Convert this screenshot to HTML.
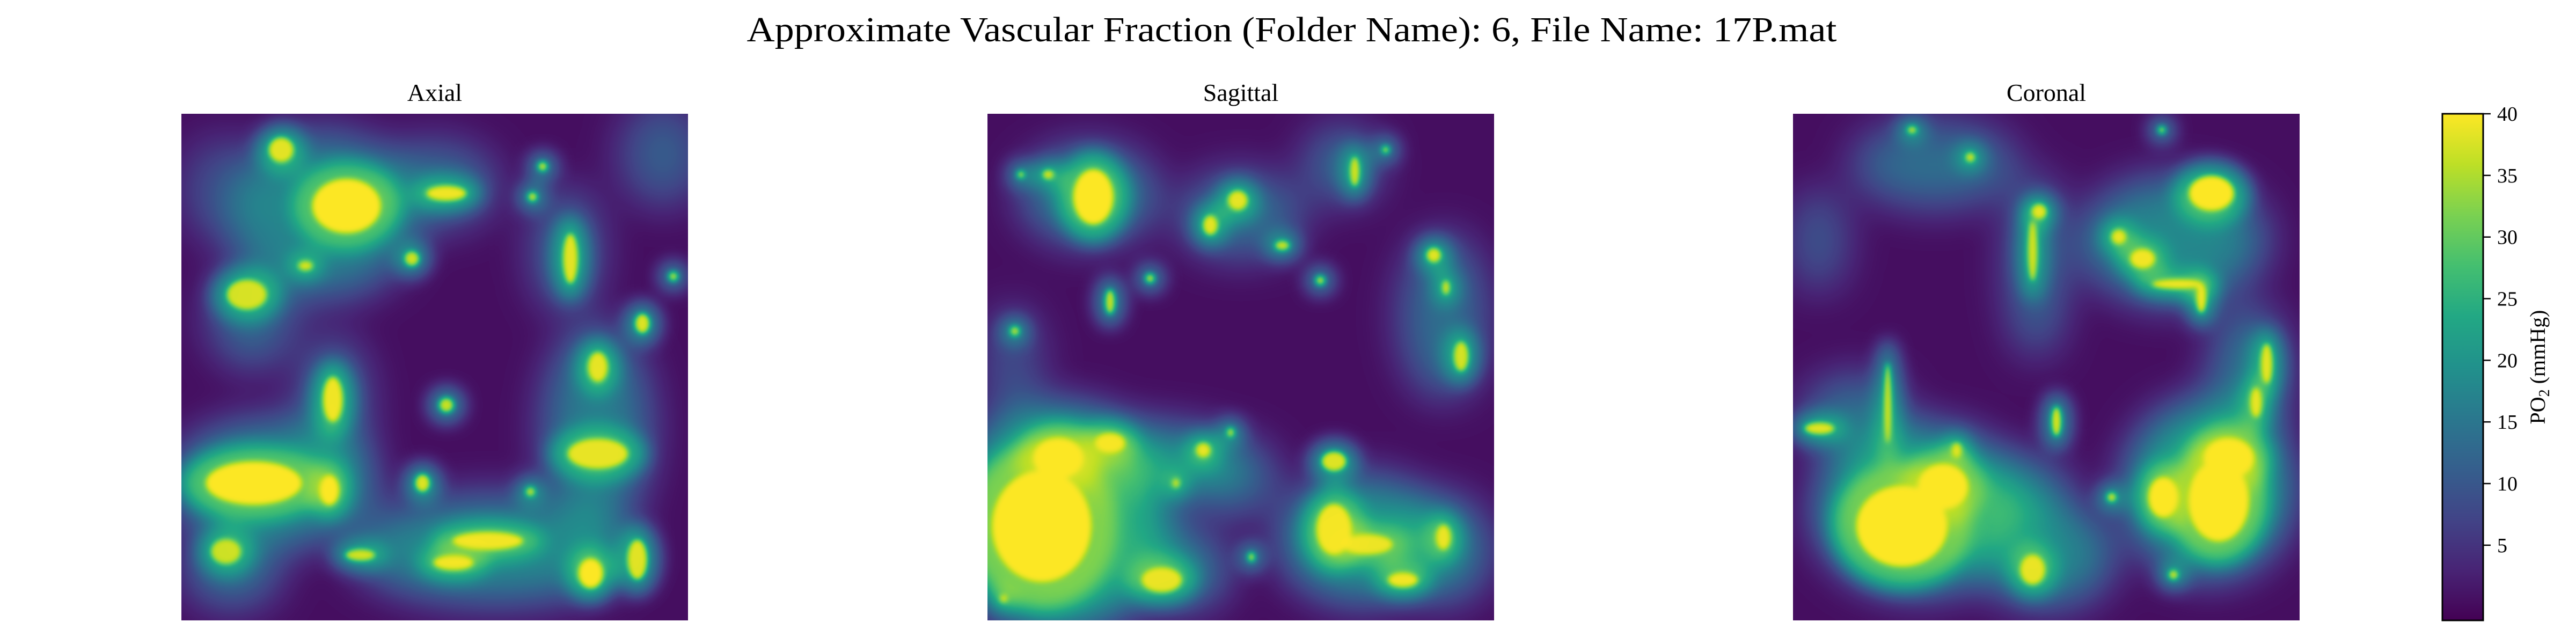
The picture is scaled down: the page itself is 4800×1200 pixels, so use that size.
<!DOCTYPE html>
<html><head><meta charset="utf-8"><style>
html,body{margin:0;padding:0;background:#fff;}
svg{display:block;font-family:"Liberation Serif",serif;}
</style></head><body>
<svg id="fig" width="4800" height="1200" viewBox="0 0 4800 1200" xmlns="http://www.w3.org/2000/svg">
<defs>
<filter id="viridis" color-interpolation-filters="sRGB" x="0" y="0" width="1" height="1">
<feComponentTransfer>
<feFuncR type="table" tableValues="0.267 0.282 0.255 0.208 0.165 0.129 0.133 0.267 0.478 0.741 0.992"/>
<feFuncG type="table" tableValues="0.004 0.141 0.267 0.373 0.471 0.569 0.659 0.749 0.820 0.875 0.906"/>
<feFuncB type="table" tableValues="0.329 0.459 0.529 0.553 0.557 0.549 0.518 0.439 0.318 0.149 0.145"/>
</feComponentTransfer>
</filter>
<filter id="bgBlur" x="-50%" y="-50%" width="200%" height="200%"><feGaussianBlur stdDeviation="40"/></filter>
<filter id="haloBlur" x="-50%" y="-50%" width="200%" height="200%"><feGaussianBlur stdDeviation="16"/></filter>
<filter id="coreBlur" x="-50%" y="-50%" width="200%" height="200%"><feGaussianBlur stdDeviation="5"/></filter>
<linearGradient id="cbGrad" x1="0" y1="1" x2="0" y2="0">
<stop offset="0" stop-color="#440154"/><stop offset="0.1" stop-color="#482475"/><stop offset="0.2" stop-color="#414487"/>
<stop offset="0.3" stop-color="#355f8d"/><stop offset="0.4" stop-color="#2a788e"/><stop offset="0.5" stop-color="#21918c"/>
<stop offset="0.6" stop-color="#22a884"/><stop offset="0.7" stop-color="#44bf70"/><stop offset="0.8" stop-color="#7ad151"/>
<stop offset="0.9" stop-color="#bddf26"/><stop offset="1" stop-color="#fde725"/>
</linearGradient>
</defs>
<text x="2407" y="77" font-size="66" text-anchor="middle" textLength="2031" lengthAdjust="spacingAndGlyphs">Approximate Vascular Fraction (Folder Name): 6, File Name: 17P.mat</text>
<g id="panels"></g>
<g id="colorbar"></g>
</svg>
<script>
// panel titles
const panelNames = ["Axial", "Sagittal", "Coronal"];
// blobs: [x%, y%, rx%, ry%, intensity]
const axialCores = [[32.6,18.2,6.8,5.4,1],[14.3,72.9,9.5,4.3,1],[29.2,74.3,2,3,1],[80.8,90.7,2.5,3,1],[60.5,84.3,7,1.8,0.95],[53.7,88.6,4,1.5,0.95],[47.6,72.9,1.5,1.8,0.9],[29.9,56.4,2,4.5,0.95],[82.2,67.1,6,3,0.9],[82.2,50,2,3,0.9],[76.8,28.6,1.5,5,0.9],[52.3,15.7,4,1.5,0.95],[12.9,35.7,4,3,0.85],[19.7,7.1,2.5,2.5,0.9],[71.3,10.4,1,1,0.85],[69.3,16.4,1,1,0.85],[91,41.4,1.5,2,0.9],[97.1,32.1,1,1,0.8],[52.3,57.5,1.5,1.5,0.85],[8.8,86.4,3,2.5,0.8],[35.3,87.1,3,1.2,0.85],[45.5,28.6,1.5,1.5,0.85],[24.5,30,1.5,1,0.85],[68.9,74.6,1,1,0.8],[90,88,2,4,0.9]];
const axialGlows = [[28,20,18,16,0.42],[18,73,20,12,0.47],[62,86,28,10,0.45],[82,62,10,20,0.4],[50,14,12,8,0.32],[95,8,8,10,0.27],[10,90,9,7,0.37],[30,58,6,14,0.34],[76,27,6,12,0.32],[14,40,8,10,0.32],[8,15,8,10,0.2]];
const sagittalCores = [[10.7,81.4,9.8,11,1],[14,68,5,4,1],[20.9,16.4,4,5.5,1],[24.2,65,3,2,0.95],[68.4,82,3.5,5,0.95],[82,92,3,1.5,0.95],[90,83.6,1.5,2.5,0.9],[34.4,92,4,2.5,0.9],[42.6,66.4,1.5,1.5,0.9],[68.4,68.6,2.5,2,0.9],[49.4,17.1,2,2,0.9],[44,22,1.5,2,0.9],[58.2,26,1.5,1,0.85],[72.5,11.4,1,3,0.85],[78.6,7.1,0.8,0.8,0.8],[88.1,27.9,1.5,1.5,0.9],[90.5,34.3,0.8,1.5,0.85],[93.5,47.9,1.5,3,0.85],[65.7,32.9,1,1,0.8],[32.1,32.5,1,1,0.8],[24.2,37.1,1,2.5,0.85],[5.4,42.9,1,1,0.8],[12,12,1.2,1,0.85],[6.6,12,0.8,0.8,0.8],[48,62.9,0.8,1,0.8],[52.1,87.5,0.8,1,0.8],[37.2,72.9,0.8,1,0.8],[3.2,95.7,0.8,0.8,0.8],[75,85,5,2,0.9]];
const sagittalGlows = [[14,80,22,22,0.6],[30,68,20,6,0.5],[74,84,16,12,0.5],[90,86,9,10,0.4],[20,16,13,9,0.42],[50,20,12,8,0.34],[90,40,8,16,0.34],[5,50,5,12,0.24],[38,90,9,7,0.44],[70,10,7,7,0.34],[48,72,9,7,0.34]];
const coronalCores = [[21.5,81.4,9,8,1],[29.6,73.6,5,4.5,1],[84,76.4,6,8,1],[73.1,75.7,3,4,1],[86,68,5,4,1],[82.6,15.7,4.5,3.5,1],[69,28.6,2.5,2,0.95],[75.8,33.6,5,1,0.95],[80.6,36.4,1,3,0.95],[64.3,24.3,1.5,1.5,0.9],[48.6,19.3,1.5,1.5,0.9],[47.3,27.1,1,6,0.85],[93.5,49.3,1.2,4,0.9],[91.4,57,1.2,3,0.9],[52,60.7,1,3,0.9],[18.7,57.1,0.8,8,0.85],[5.2,62.1,3,1.2,0.9],[47.3,90,2.5,3,0.9],[75.1,91,1,1,0.85],[35,8.6,1,1,0.85],[23.5,3.2,1,0.8,0.85],[72.8,3.2,0.8,0.8,0.8],[62.9,75.7,1,1,0.85],[32.3,66.4,1,1.5,0.85]];
const coronalGlows = [[25,78,20,16,0.57],[82,74,16,17,0.57],[75,25,18,12,0.44],[48,30,5,18,0.34],[50,87,13,10,0.44],[12,60,10,8,0.34],[28,10,16,8,0.34],[90,52,7,14,0.38],[5,25,5,10,0.27],[45,75,9,7,0.4]];
const panelCores = [axialCores, sagittalCores, coronalCores];
const panelGlows = [axialGlows, sagittalGlows, coronalGlows];
// colorbar
const cbTicks = [5, 10, 15, 20, 25, 30, 35, 40];
const cbMin = -1.1, cbMax = 40;

const NS = "http://www.w3.org/2000/svg";
const PX0 = [338, 1840, 3341], PY0 = 212, PS = 944;
function mk(tag, attrs, parent){const e=document.createElementNS(NS,tag);for(const k in attrs)e.setAttribute(k,attrs[k]);parent.appendChild(e);return e;}
function sx(i,v){return PX0[i]+v/100*PS;}
function sy(v){return PY0+v/100*PS;}
function sr(v){return v/100*PS;}

const panels = document.getElementById('panels');
panelNames.forEach((name,i)=>{
  const g = mk('g',{},panels);
  
  
  const t = mk('text',{x:PX0[i]+PS/2, y:188, 'font-size':46, 'text-anchor':'middle'},g);
  t.textContent = name;
  
  
  const cid = 'clip'+i;
  const cp = mk('clipPath',{id:cid},g);
  mk('rect',{x:PX0[i],y:PY0,width:PS,height:PS},cp);
  const clipG = mk('g',{'clip-path':'url(#'+cid+')'},g);
  const img = mk('g',{filter:'url(#viridis)'},clipG);
  
  
  mk('rect',{x:PX0[i]-60,y:PY0-60,width:PS+120,height:PS+120,fill:'#0a0a0a'},img);
  const bg = mk('g',{filter:'url(#bgBlur)'},img);
  panelGlows[i].forEach(b=>{
    const e = mk('ellipse',{cx:sx(i,b[0]),cy:sy(b[1]),rx:sr(b[2]),ry:sr(b[3]),fill:'#fff','fill-opacity':b[4]},bg);
    
    
  });
  const halo = mk('g',{filter:'url(#haloBlur)'},img);
  panelCores[i].forEach(b=>{
    mk('ellipse',{cx:sx(i,b[0]),cy:sy(b[1]),rx:sr(b[2])*1.4+14,ry:sr(b[3])*1.4+14,fill:'#fff','fill-opacity':0.5*b[4]},halo);
  });
  const core = mk('g',{filter:'url(#coreBlur)'},img);
  panelCores[i].forEach(b=>{
    const e = mk('ellipse',{cx:sx(i,b[0]),cy:sy(b[1]),rx:sr(b[2]),ry:sr(b[3]),fill:'#fff','fill-opacity':b[4]},core);
    
    
  });
});

const cb = document.getElementById('colorbar');
const CX = 4551, CW = 76, CY = 212, CH = 944;
function cy(v){return CY + (cbMax - v)/(cbMax - cbMin)*CH;}
const bar = mk('rect',{x:CX,y:CY,width:CW,height:CH,fill:'url(#cbGrad)',stroke:'#000','stroke-width':3},cb);


cbTicks.forEach(v=>{
  const y = cy(v);
  mk('line',{x1:CX+CW,x2:CX+CW+14,y1:y,y2:y,stroke:'#000','stroke-width':2.5},cb);
  const t = mk('text',{x:CX+CW+26,y:y+13,'font-size':38},cb);
  t.textContent = String(v);
  
  
});
const lab = mk('text',{x:0,y:0,'font-size':40,'text-anchor':'middle',transform:'translate(4742,'+(CY+CH/2)+') rotate(-90)'},cb);
lab.innerHTML = 'PO<tspan font-size="28" dy="8">2</tspan><tspan dy="-8"> (mmHg)</tspan>';


</script>
</body></html>
